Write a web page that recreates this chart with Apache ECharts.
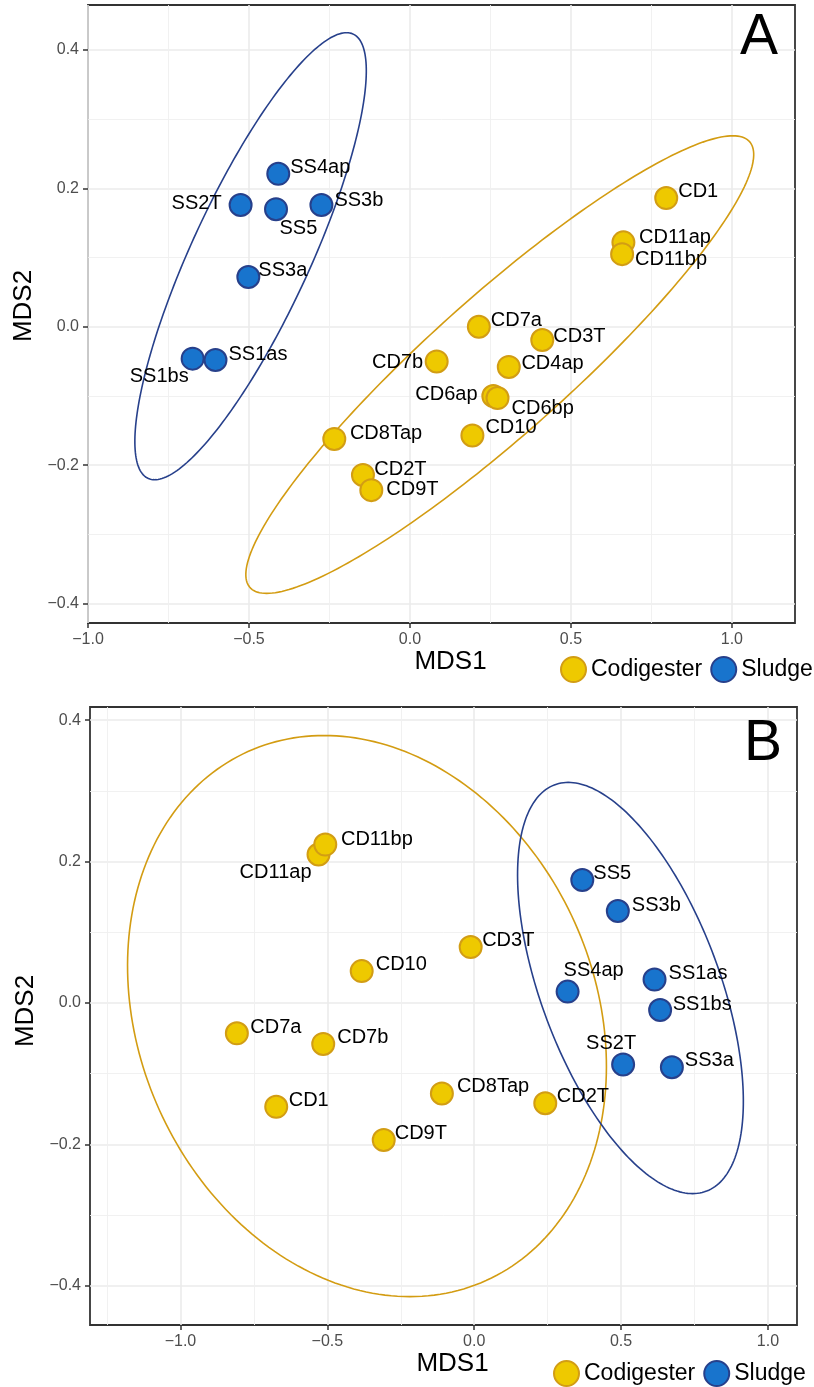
<!DOCTYPE html>
<html>
<head>
<meta charset="utf-8">
<script src="https://cdn.jsdelivr.net/npm/echarts@6/dist/echarts.min.js"></script>
<style>html,body{margin:0;padding:0;background:#fff}#c{width:814px;height:1387px}</style>
</head>
<body>
<div id="c"></div>
<script>
// ---------- Data ----------
// Panel A
const codNamesA = ['CD1','CD11ap','CD11bp','CD7a','CD3T','CD7b','CD4ap','CD6ap','CD6bp','CD10','CD8Tap','CD2T','CD9T'];
const codMds1A  = [0.796,0.663,0.659,0.214,0.411,0.083,0.307,0.259,0.272,0.194,-0.235,-0.146,-0.120];
const codMds2A  = [0.186,0.122,0.105,0.000,-0.019,-0.050,-0.058,-0.100,-0.103,-0.157,-0.162,-0.214,-0.236];
const sluNamesA = ['SS4ap','SS2T','SS5','SS3b','SS3a','SS1bs','SS1as'];
const sluMds1A  = [-0.409,-0.526,-0.416,-0.275,-0.502,-0.675,-0.604];
const sluMds2A  = [0.221,0.176,0.170,0.176,0.072,-0.046,-0.048];
// Panel B
const codNamesB = ['CD11ap','CD11bp','CD3T','CD10','CD7a','CD7b','CD1','CD8Tap','CD2T','CD9T'];
const codMds1B  = [-0.530,-0.507,-0.012,-0.383,-0.808,-0.514,-0.674,-0.110,0.242,-0.308];
const codMds2B  = [0.210,0.224,0.079,0.045,-0.043,-0.058,-0.147,-0.128,-0.142,-0.194];
const sluNamesB = ['SS5','SS3b','SS4ap','SS1as','SS1bs','SS2T','SS3a'];
const sluMds1B  = [0.368,0.489,0.318,0.614,0.633,0.507,0.673];
const sluMds2B  = [0.174,0.130,0.016,0.033,-0.010,-0.087,-0.091];
// Ellipses: [centerX, centerY, conjugate vector p (x,y), conjugate vector q (x,y)]
const ellCodA = [0.279,-0.0546,0.724,0.3306,0.313,0];
const ellSluA = [-0.495,0.102,0.298,0.323,0.201,0];
const ellCodB = [-0.365,-0.0186,-0.146,0.397,0.802,0];
const ellSluB = [0.532,0.0211,-0.2117,0.2909,0.3208,0];
// Tick values
const xMajor = [-1.0,-0.5,0,0.5,1.0];
const xMinorA = [-0.75,-0.25,0.25,0.75];
const xMinorB = [-1.25,-0.75,-0.25,0.25,0.75];
const yMajor = [-0.4,-0.2,0,0.2,0.4];
const yMinor = [-0.3,-0.1,0.1,0.3];

// ---------- Label placement (layout, not data) ----------
const labA = {
  SS4ap:['left',12,-6.6], SS2T:['right',-19,-1.7], SS5:['left',3.5,19], SS3b:['left',13,-5],
  SS3a:['left',10,-6], SS1as:['left',13,-6], SS1bs:['right',-4,18],
  CD1:['left',12,-7], CD11ap:['left',15.6,-5], CD11bp:['left',13,5.7], CD7a:['left',12,-6.6],
  CD3T:['left',11,-3], CD7b:['right',-13.5,1], CD4ap:['left',12.6,-3], CD6ap:['right',-15.8,-1.3],
  CD6bp:['left',14,10.6], CD10:['left',13,-7.5], CD8Tap:['left',15.6,-5.7], CD2T:['left',11.4,-5], CD9T:['left',15,-1]
};
const labB = {
  CD11bp:['left',15.7,-5.4], CD11ap:['right',-7,17.8], CD3T:['left',11.5,-7], CD10:['left',14,-7],
  CD7a:['left',13.5,-6], CD7b:['left',14,-6.6], CD1:['left',12.5,-6], CD8Tap:['left',15,-6.7],
  CD2T:['left',11.5,-6.7], CD9T:['left',11,-6.7], SS5:['left',11,-6], SS3b:['left',14,-6],
  SS4ap:['center',26,-21], SS1as:['left',14,-6], SS1bs:['left',12.6,-6], SS2T:['center',-12,-21], SS3a:['left',13,-6.7]
};

const FONT = 'Liberation Sans';
const YEL = '#EEC900', YEL_B = '#D29D14', YEL_L = '#D39C12';
const BLU = '#1874CD', BLU_B = '#27408B', BLU_L = '#27408B';

function pts(names, xs, ys, lab) {
  return names.map((n, i) => {
    const l = lab[n];
    return {
      name: n, value: [xs[i], ys[i]],
      label: { show: true, position: 'inside', align: l[0], verticalAlign: 'middle', offset: [l[1], l[2]] }
    };
  });
}
function fmt(v) { return (v < 0 ? '\u2212' : '') + Math.abs(v).toFixed(1); }

function scatter(name, data, gi, fill, border) {
  return {
    type: 'scatter', name: name, xAxisIndex: gi, yAxisIndex: gi, z: 3,
    symbol: 'circle', symbolSize: 22,
    itemStyle: { color: fill, borderColor: border, borderWidth: 2, opacity: 1 },
    label: { show: true, formatter: '{b}', color: '#000', fontSize: 20, fontFamily: FONT },
    emphasis: { disabled: true },
    data: data
  };
}
function ellipse(name, par, gi, color) {
  return {
    type: 'custom', name: name, xAxisIndex: gi, yAxisIndex: gi, z: 2, silent: true,
    encode: { x: 0, y: 1 },
    data: [par],
    renderItem: function (params, api) {
      const cx = api.value(0), cy = api.value(1), px = api.value(2), py = api.value(3), qx = api.value(4), qy = api.value(5);
      const p = [];
      for (let i = 0; i <= 240; i++) {
        const t = i / 240 * 2 * Math.PI;
        p.push(api.coord([cx + px * Math.cos(t) + qx * Math.sin(t), cy + py * Math.cos(t) + qy * Math.sin(t)]));
      }
      return { type: 'polyline', shape: { points: p }, style: { stroke: color, fill: null, lineWidth: 1.6 } };
    }
  };
}

function majorX(gi, min, max) {
  return {
    type: 'value', gridIndex: gi, min: min, max: max, position: 'bottom',
    name: 'MDS1', nameLocation: 'middle', nameGap: 25,
    nameTextStyle: { fontSize: 26, color: '#000', fontFamily: FONT, padding: [0, 0, 0, 18] },
    axisLine: { show: false, onZero: false },
    axisTick: { show: true, customValues: xMajor, length: 5, lineStyle: { color: '#333', width: 1.5 } },
    axisLabel: { customValues: xMajor, formatter: fmt, color: '#4D4D4D', fontSize: 16, fontFamily: FONT, margin: 9 },
    splitLine: { show: true, lineStyle: { color: '#EBEBEB', width: 1.6 } }
  };
}
function majorY(gi, min, max, pad) {
  return {
    type: 'value', gridIndex: gi, min: min, max: max, position: 'left',
    name: 'MDS2', nameLocation: 'middle', nameGap: 50,
    nameTextStyle: { fontSize: 26, color: '#000', fontFamily: FONT, padding: [0, 0, 0, pad] },
    axisLine: { show: false, onZero: false },
    axisTick: { show: true, customValues: yMajor, length: 5, lineStyle: { color: '#333', width: 1.5 } },
    axisLabel: { customValues: yMajor, formatter: fmt, color: '#4D4D4D', fontSize: 16, fontFamily: FONT, margin: 9 },
    splitLine: { show: true, lineStyle: { color: '#EBEBEB', width: 1.6 } }
  };
}
function minorAxis(gi, min, max, vals) {
  return {
    type: 'value', gridIndex: gi, min: min, max: max,
    axisLine: { show: false, onZero: false },
    axisTick: { show: false, customValues: vals },
    axisLabel: { show: false, customValues: vals },
    splitLine: { show: true, lineStyle: { color: '#EFEFEF', width: 0.9 } }
  };
}

const AX = [-1.0, 1.196], AY = [-0.428, 0.465];
const BX = [-1.308, 1.099], BY = [-0.4557, 0.4187];

const option = {
  animation: false,
  backgroundColor: '#fff',
  grid: [
    { left: 88, top: 5, width: 707, height: 618, show: true, borderColor: '#333', borderWidth: 1.8, backgroundColor: 'transparent' },
    { left: 90, top: 707, width: 707, height: 618, show: true, borderColor: '#333', borderWidth: 1.8, backgroundColor: 'transparent' }
  ],
  xAxis: [
    majorX(0, AX[0], AX[1]), majorX(1, BX[0], BX[1]),
    minorAxis(0, AX[0], AX[1], xMinorA), minorAxis(1, BX[0], BX[1], xMinorB)
  ],
  yAxis: [
    majorY(0, AY[0], AY[1], 16), majorY(1, BY[0], BY[1], 10),
    minorAxis(0, AY[0], AY[1], yMinor), minorAxis(1, BY[0], BY[1], yMinor)
  ],
  legend: [
    { left: 560, top: 656, padding: 0, itemWidth: 25, itemHeight: 25, itemGap: 8, icon: 'circle',
      data: ['Codigester', 'Sludge'], selectedMode: false,
      textStyle: { fontSize: 23, color: '#000', fontFamily: FONT } },
    { left: 553, top: 1360, padding: 0, itemWidth: 25, itemHeight: 25, itemGap: 8, icon: 'circle',
      data: ['Codigester', 'Sludge'], selectedMode: false,
      textStyle: { fontSize: 23, color: '#000', fontFamily: FONT } }
  ],
  graphic: [
    { type: 'text', z: 10, style: { x: 740, y: 38, text: 'A', fontSize: 57, fontFamily: FONT, fill: '#000', align: 'left', verticalAlign: 'middle' } },
    { type: 'text', z: 10, style: { x: 744, y: 744, text: 'B', fontSize: 57, fontFamily: FONT, fill: '#000', align: 'left', verticalAlign: 'middle' } }
  ],
  series: [
    ellipse('ellCodA', ellCodA, 0, YEL_L),
    ellipse('ellSluA', ellSluA, 0, BLU_L),
    scatter('Codigester', pts(codNamesA, codMds1A, codMds2A, labA), 0, YEL, YEL_B),
    scatter('Sludge', pts(sluNamesA, sluMds1A, sluMds2A, labA), 0, BLU, BLU_B),
    ellipse('ellCodB', ellCodB, 1, YEL_L),
    ellipse('ellSluB', ellSluB, 1, BLU_L),
    scatter('Codigester', pts(codNamesB, codMds1B, codMds2B, labB), 1, YEL, YEL_B),
    scatter('Sludge', pts(sluNamesB, sluMds1B, sluMds2B, labB), 1, BLU, BLU_B)
  ]
};
const chart = echarts.init(document.getElementById('c'), null, { renderer: 'canvas' });
chart.setOption(option);
</script>
</body>
</html>
